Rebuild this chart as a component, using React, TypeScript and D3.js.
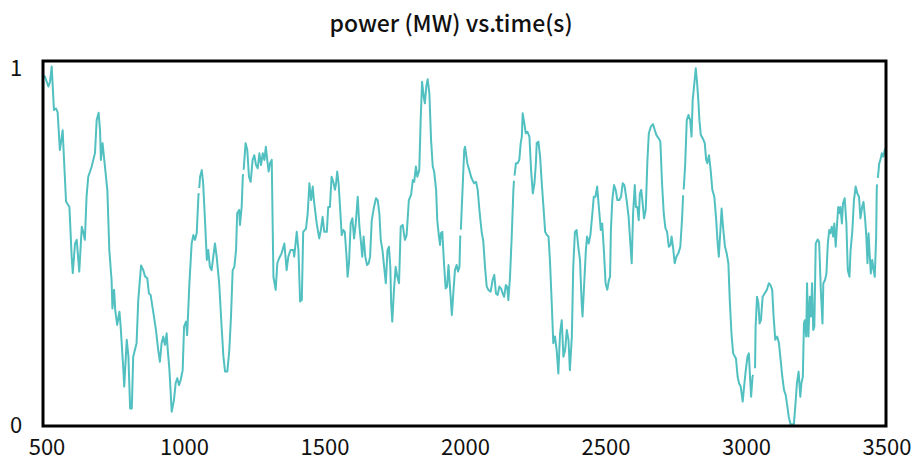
import React from 'react';
import * as d3 from 'd3';

// time (s) and power (MW); null = small break in the trace
const timeS = [
  500, 507, 519, 525, 531, 534, 539, 546, 552, 560, 570, 572, 582, 594, 602, 606, 614, 620, 629, 638,
  643, 649, 655, 661, 673, 685, 691, 698, 703, 706, 712, 718, 729, 736, 744, 747, 753, 757, 764, 772,
  776, 786, 789, 798, 804, 810, 816, 821, 833, 839, 849, 857, 863, 871, 877, 883, 893, 902, 910, 916,
  922, 928, 934, 940, 944, 950, 958, 966, 972, 978, 984, 990, 997, 1002, 1009, 1013, 1021, 1029, 1035, 1041,
  1047, 1053, 1054, 1055, 1056, 1059, 1065, 1070, 1077, 1083, 1088, 1094, 1100, 1106, 1112, 1118, 1127, 1135, 1142, 1148,
  1156, 1163, 1169, 1175, 1181, 1187, 1191, 1198, 1201, 1207, 1211, 1212, 1213, 1214, 1221, 1227, 1233, 1239, 1246, 1252,
  1258, 1264, 1270, 1276, 1282, 1288, 1293, 1298, 1303, 1308, 1314, 1320, 1328, 1334, 1340, 1349, 1359, 1367, 1373, 1381,
  1391, 1394, 1403, 1409, 1415, 1421, 1426, 1436, 1442, 1448, 1454, 1460, 1464, 1474, 1483, 1489, 1495, 1501, 1510, 1515,
  1521, 1527, 1533, 1539, 1543, 1547, 1552, 1557, 1563, 1569, 1574, 1581, 1584, 1589, 1595, 1601, 1607, 1613, 1620, 1626,
  1632, 1636, 1641, 1647, 1653, 1659, 1664, 1670, 1678, 1685, 1691, 1697, 1702, 1708, 1714, 1720, 1726, 1731, 1736, 1739,
  1743, 1749, 1755, 1761, 1767, 1773, 1780, 1788, 1794, 1802, 1810, 1816, 1821, 1827, 1832, 1839, 1844, 1849, 1855, 1859,
  1864, 1869, 1875, 1881, 1887, 1892, 1899, 1903, 1909, 1913, 1916, 1921, 1927, 1933, 1938, 1943, 1949, 1955, 1961, 1966,
  1972, 1977, 1982, 1985, 1986, 1987, 1993, 1999, 2002, 2010, 2017, 2025, 2034, 2041, 2047, 2053, 2061, 2067, 2073, 2079,
  2085, 2093, 2100, 2106, 2112, 2118, 2124, 2130, 2136, 2141, 2147, 2152, 2156, 2162, 2168, 2174, 2176, 2177, 2178, 2183,
  2189, 2195, 2200, 2204, 2207, 2212, 2218, 2224, 2231, 2237, 2243, 2249, 2254, 2257, 2263, 2269, 2275, 2281, 2287, 2293,
  2299, 2304, 2310, 2316, 2322, 2328, 2334, 2340, 2346, 2352, 2358, 2364, 2370, 2375, 2382, 2387, 2393, 2399, 2405, 2411,
  2417, 2420, 2426, 2432, 2436, 2442, 2448, 2454, 2460, 2466, 2472, 2479, 2485, 2490, 2496, 2502, 2508, 2514, 2518, 2521,
  2526, 2532, 2538, 2544, 2551, 2557, 2563, 2569, 2577, 2584, 2591, 2595, 2600, 2606, 2610, 2615, 2620, 2624, 2629, 2634,
  2639, 2645, 2651, 2656, 2663, 2671, 2677, 2683, 2691, 2697, 2703, 2709, 2715, 2721, 2727, 2733, 2737, 2742, 2748, 2754,
  2761, 2768, 2774, 2778, 2779, 2780, 2785, 2791, 2797, 2803, 2808, 2812, 2818, 2823, 2827, 2832, 2836, 2841, 2848, 2855,
  2860, 2864, 2870, 2876, 2882, 2889, 2895, 2901, 2905, 2910, 2915, 2920, 2927, 2933, 2939, 2944, 2950, 2956, 2966, 2972,
  2977, 2983, 2990, 2995, 3001, 3007, 3012, 3016, 3020, 3025, 3027, 3029, 3034, 3036, 3041, 3046, 3050, 3055, 3061, 3068,
  3076, 3083, 3089, 3095, 3100, 3106, 3113, 3119, 3125, 3131, 3137, 3143, 3149, 3154, 3160, 3166, 3172, 3178, 3183, 3189,
  3195, 3199, 3204, 3208, 3211, 3216, 3219, 3224, 3229, 3233, 3237, 3241, 3245, 3250, 3257, 3262, 3268, 3274, 3277, 3283,
  3288, 3293, 3298, 3302, 3307, 3312, 3316, 3321, 3326, 3330, 3335, 3338, 3343, 3347, 3353, 3359, 3364, 3370, 3374, 3380,
  3386, 3392, 3398, 3404, 3409, 3415, 3420, 3426, 3430, 3434, 3438, 3441, 3446, 3451, 3456, 3460, 3465, 3467, 3468, 3469,
  3471, 3476, 3480, 3485, 3490, 3497,
];

const powerMW: (number | null)[] = [
  0.96, 0.957, 0.93, 0.943, 0.985, 0.94, 0.866, 0.87, 0.86, 0.756, 0.81, 0.775, 0.615, 0.6, 0.464, 0.419, 0.5, 0.51, 0.423, 0.546,
  0.532, 0.51, 0.628, 0.683, 0.71, 0.748, 0.838, 0.858, 0.81, 0.729, 0.775, 0.729, 0.647, 0.482, 0.4, 0.322, 0.373, 0.318, 0.277, 0.313,
  0.277, 0.153, 0.108, 0.236, 0.19, 0.048, 0.048, 0.19, 0.227, 0.345, 0.44, 0.427, 0.41, 0.405, 0.363, 0.359, 0.309, 0.263, 0.208, 0.176,
  0.227, 0.245, 0.222, 0.254, 0.208, 0.153, 0.039, 0.071, 0.117, 0.131, 0.112, 0.126, 0.153, 0.272, 0.286, 0.249, 0.391, 0.5, 0.523, 0.51,
  0.528, 0.628, 0.638, null, 0.652, 0.683, 0.701, 0.665, 0.555, 0.455, 0.482, 0.436, 0.427, 0.464, 0.5, 0.464, 0.391, 0.281, 0.19, 0.149,
  0.149, 0.208, 0.3, 0.427, 0.436, 0.482, 0.583, 0.592, 0.551, 0.6, 0.683, 0.69, null, 0.702, 0.775, 0.756, 0.683, 0.669, 0.729, 0.742,
  0.715, 0.706, 0.747, 0.715, 0.747, 0.729, 0.765, 0.729, 0.697, 0.72, 0.729, 0.409, 0.373, 0.446, 0.459, 0.473, 0.5, 0.427, 0.464, 0.482,
  0.482, 0.464, 0.532, 0.482, 0.341, 0.345, 0.532, 0.541, 0.583, 0.665, 0.619, 0.656, 0.619, 0.555, 0.514, 0.537, 0.573, 0.532, 0.532, 0.6,
  0.6, 0.683, 0.669, 0.647, 0.665, 0.697, 0.665, 0.6, 0.523, 0.537, 0.532, 0.455, 0.409, 0.446, 0.555, 0.569, 0.514, 0.555, 0.628, 0.546,
  0.5, 0.464, 0.519, 0.464, 0.441, 0.446, 0.464, 0.564, 0.6, 0.624, 0.619, 0.583, 0.51, 0.482, 0.436, 0.391, 0.482, 0.491, 0.436, 0.336,
  0.286, 0.373, 0.436, 0.409, 0.391, 0.546, 0.551, 0.51, 0.523, 0.619, 0.633, 0.674, 0.669, 0.711, 0.683, 0.701, 0.838, 0.943, 0.902, 0.884,
  0.93, 0.95, 0.911, 0.784, 0.711, 0.697, 0.647, 0.564, 0.519, 0.496, 0.528, 0.532, 0.446, 0.377, 0.382, 0.441, 0.373, 0.304, 0.373, 0.427,
  0.441, 0.423, 0.436, 0.522, null, 0.538, 0.647, 0.756, 0.765, 0.72, 0.701, 0.679, 0.665, 0.669, 0.647, 0.592, 0.532, 0.505, 0.436, 0.382,
  0.373, 0.368, 0.4, 0.414, 0.363, 0.359, 0.382, 0.377, 0.363, 0.354, 0.386, 0.382, 0.345, 0.409, 0.519, 0.647, 0.672, null, 0.686, 0.72,
  0.72, 0.729, 0.775, 0.793, 0.857, 0.834, 0.802, 0.806, 0.793, 0.701, 0.637, 0.665, 0.72, 0.775, 0.779, 0.738, 0.665, 0.6, 0.532, 0.523,
  0.519, 0.455, 0.345, 0.227, 0.245, 0.208, 0.144, 0.254, 0.29, 0.19, 0.208, 0.263, 0.236, 0.153, 0.245, 0.436, 0.532, 0.537, 0.491, 0.455,
  0.336, 0.3, 0.391, 0.482, 0.519, 0.5, 0.523, 0.573, 0.628, 0.628, 0.656, 0.592, 0.537, 0.555, 0.482, 0.391, 0.373, 0.4, 0.409, 0.537,
  0.619, 0.66, 0.647, 0.619, 0.619, 0.628, 0.665, 0.66, 0.619, 0.573, 0.491, 0.446, 0.583, 0.66, 0.6, 0.6, 0.564, 0.637, 0.647, 0.61,
  0.569, 0.592, 0.729, 0.802, 0.82, 0.827, 0.811, 0.797, 0.788, 0.779, 0.665, 0.583, 0.542, 0.532, 0.491, 0.496, 0.519, 0.491, 0.446, 0.464,
  0.473, 0.491, 0.564, 0.632, null, 0.648, 0.711, 0.838, 0.852, 0.838, 0.793, 0.893, 0.939, 0.98, 0.948, 0.893, 0.838, 0.797, 0.788, 0.775,
  0.729, 0.72, 0.742, 0.701, 0.647, 0.628, 0.573, 0.5, 0.464, 0.528, 0.596, 0.546, 0.491, 0.473, 0.446, 0.345, 0.254, 0.199, 0.185, 0.135,
  0.117, 0.108, 0.067, 0.108, 0.153, 0.19, 0.199, 0.135, 0.08, 0.135, 0.14, null, 0.158, 0.272, 0.354, 0.336, 0.281, 0.29, 0.354, 0.363,
  0.373, 0.391, 0.386, 0.373, 0.3, 0.236, 0.245, 0.227, 0.181, 0.135, 0.099, 0.085, 0.053, 0.025, 0.005, 0.005, 0.003, 0.062, 0.117, 0.149,
  0.08, 0.117, 0.135, 0.281, 0.29, 0.245, 0.391, 0.245, 0.354, 0.3, 0.391, 0.263, 0.272, 0.5, 0.511, 0.505, 0.373, 0.281, 0.391, 0.4,
  0.418, 0.5, 0.537, 0.528, 0.546, 0.519, 0.555, 0.491, 0.555, 0.6, 0.583, 0.6, 0.555, 0.61, 0.624, 0.555, 0.427, 0.409, 0.482, 0.532,
  0.619, 0.656, 0.637, 0.628, 0.569, 0.6, 0.614, 0.564, 0.519, 0.446, 0.528, 0.482, 0.418, 0.455, 0.427, 0.409, 0.519, 0.647, 0.662, null,
  0.68, 0.72, 0.729, 0.747, 0.738, 0.76,
];

const xTicks = [500, 1000, 1500, 2000, 2500, 3000, 3500];
const yTicks = [0, 1];
const title = 'power (MW) vs.time(s)';

const width = 917;
const height = 458;
const margin = { top: 61, right: 31, bottom: 32, left: 43 };
const font = "'Noto Sans CJK SC', 'Noto Sans', sans-serif";

export default function App() {
  const x = d3.scaleLinear().domain([500, 3500]).range([margin.left, width - margin.right]);
  const y = d3.scaleLinear().domain([0, 1]).range([height - margin.bottom, margin.top]);

  const points = timeS.map((t, i) => ({ t, v: powerMW[i] }));
  const line = d3.line<{ t: number; v: number | null }>()
    .defined(d => d.v !== null)
    .x(d => x(d.t))
    .y(d => y(d.v as number));

  const [x0, x1] = x.range();
  const [y0, y1] = y.range();

  return (
    <svg width={width} height={height} style={{ position: 'absolute', left: 0, top: 0, display: 'block' }}
      fontFamily={font}>
      <rect width={width} height={height} fill="#fff" />
      <text x={451} y={32} textAnchor="middle" fontSize={23} fontWeight={500} fill="#111">{title}</text>

      <path d={line(points) ?? ''} fill="none" stroke="#52c0c0" strokeWidth={2} strokeLinejoin="round" />

      <rect x={x0} y={y1} width={x1 - x0} height={y0 - y1} fill="none" stroke="#000" strokeWidth={3} />

      {xTicks.map((t, i) => (
        <text key={t} x={x(t) + (i === 0 ? 4 : 1)} y={455} textAnchor="middle" fontSize={22} fill="#111">{t}</text>
      ))}
      {yTicks.map(t => (
        <text key={t} x={16} y={y(t) + (t === 1 ? 15 : 7)} textAnchor="middle" fontSize={22} fill="#111">{t}</text>
      ))}
    </svg>
  );
}
